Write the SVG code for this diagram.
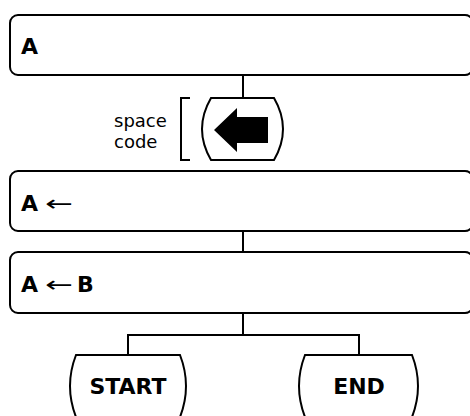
<svg xmlns="http://www.w3.org/2000/svg" width="470" height="416" viewBox="0 0 470 416">
<style>
.box{fill:#fff;stroke:#000;stroke-width:2}
.ln{fill:none;stroke:#000;stroke-width:2}
.t{font-family:"DejaVu Sans",sans-serif;font-size:22px;font-weight:bold;fill:#000}
.ar{font-weight:normal}
.s{font-family:"DejaVu Sans",sans-serif;font-size:18px;fill:#000}
</style>
<rect width="470" height="416" fill="#fff"/>
<g id="connectors">
<path class="ln" d="M243,75 V98"/>
<path class="ln" d="M243,231 V252"/>
<path class="ln" d="M243,313 V335 M128,335 H359 M128,334 V355 M359,334 V355"/>
</g>
<g id="boxA">
<rect class="box" x="10" y="15" width="463" height="60" rx="8"/>
<text class="t" x="21" y="54">A</text>
</g>
<g id="key">
<path class="ln" d="M190,98 H181 V160 H190"/>
<text class="s" x="114" y="127">space</text>
<text class="s" x="114" y="148">code</text>
<path class="box" d="M211,98 H274 Q292,129 274,160 H211 Q193,129 211,98 Z"/>
<polygon points="214,130 237,108 237,117 268,117 268,143 237,143 237,152" fill="#000"/>
</g>
<g id="boxB">
<rect class="box" x="10" y="171" width="463" height="60" rx="8"/>
<text class="t" x="21" y="211">A<tspan class="ar" x="45" textLength="28" lengthAdjust="spacingAndGlyphs">←</tspan></text>
</g>
<g id="boxC">
<rect class="box" x="10" y="252" width="463" height="61" rx="8"/>
<text class="t" x="21" y="292">A<tspan class="ar" x="45" textLength="28" lengthAdjust="spacingAndGlyphs">←</tspan><tspan x="77">B</tspan></text>
</g>
<g id="start">
<path class="box" d="M76,355 H180 Q192,386 180,417 H76 Q64,386 76,355 Z"/>
<text class="t" x="128" y="394" text-anchor="middle">START</text>
</g>
<g id="end">
<path class="box" d="M305,355 H412 Q424,386 412,417 H305 Q293,386 305,355 Z"/>
<text class="t" x="359" y="394" text-anchor="middle">END</text>
</g>
</svg>
